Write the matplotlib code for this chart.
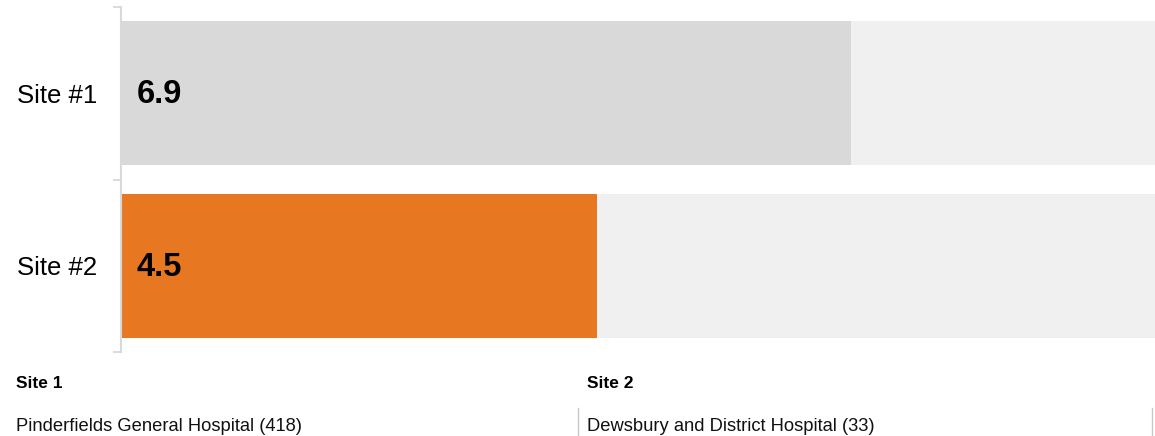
import matplotlib.pyplot as plt
from matplotlib.lines import Line2D

plt.rcParams['font.family'] = ['Liberation Sans', 'DejaVu Sans']

sites = ['Site #1', 'Site #2']
values = [6.9, 4.5]
track_max = 9.78
bar_colors = ['#d9d9d9', '#e87722']
site_headers = ['Site 1', 'Site 2']
hospitals = ['Pinderfields General Hospital (418)', 'Dewsbury and District Hospital (33)']

W, H, DPI = 1155, 436, 100
fig = plt.figure(figsize=(W / DPI, H / DPI), dpi=DPI)
ax = fig.add_axes([121 / W, 1 - 352 / H, 1 - 121 / W, 345 / H])

ypos = list(range(len(sites)))
# grey track behind each bar, then the value bar itself
ax.barh(ypos, [track_max] * len(sites), height=0.832, color='#f0f0f0', zorder=1)
ax.barh(ypos, values, height=0.832, color=bar_colors, zorder=2)

for y, v in zip(ypos, values):
    ax.annotate(f'{v}', xy=(0, y), xytext=(11, -1), textcoords='offset points',
                va='center', ha='left', fontsize=23.5, fontweight='bold', color='#000000')

ax.set_xlim(0, track_max)
ax.set_ylim(len(sites) - 0.5, -0.5)

ax.set_yticks(ypos)
ax.set_yticklabels(sites, fontsize=18.5, color='#000000')
ax.tick_params(axis='y', which='major', length=0, pad=17)
ax.set_yticks([-0.5, 0.5, 1.5], minor=True)
ax.tick_params(axis='y', which='minor', length=6, width=1.3, color='#d9d9d9')
ax.set_xticks([])

for s in ['top', 'right', 'bottom']:
    ax.spines[s].set_visible(False)
ax.spines['left'].set_color('#d9d9d9')
ax.spines['left'].set_linewidth(1.5)

# site table underneath the chart
col_x = [16, 587]
for x, head, name in zip(col_x, site_headers, hospitals):
    fig.text(x / W, 1 - 383 / H, head, fontsize=12.5, fontweight='bold',
             va='center', ha='left', color='#000000')
    fig.text(x / W, 1 - 426 / H, name, fontsize=13.2, va='center', ha='left', color='#111111')

for x in [578, 1152]:
    fig.add_artist(Line2D([x / W, x / W], [1 - 408 / H, 1 - 436 / H],
                          transform=fig.transFigure, color='#c8c8c8', linewidth=1))

fig.savefig('out.png', dpi=DPI)
